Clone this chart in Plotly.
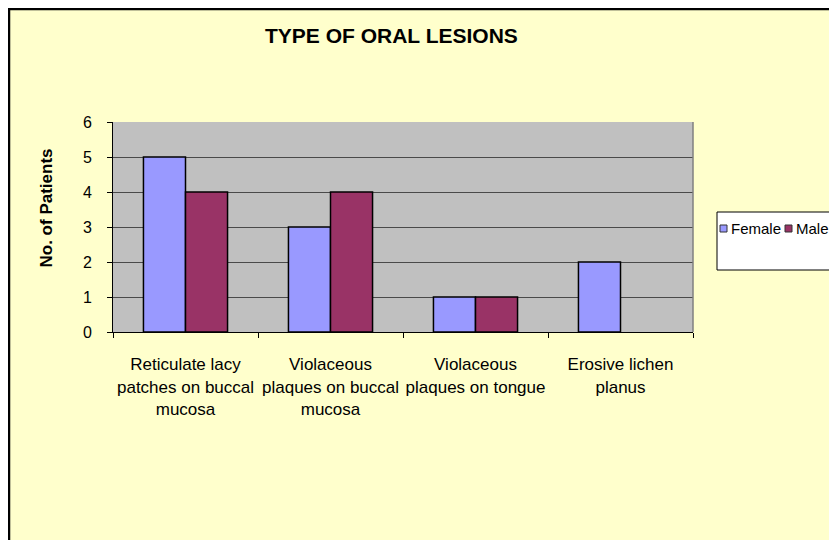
import plotly.graph_objects as go

categories = [
    "Reticulate lacy<br>patches on buccal<br>mucosa",
    "Violaceous<br>plaques on buccal<br>mucosa",
    "Violaceous<br>plaques on tongue",
    "Erosive lichen<br>planus",
]
female = [5, 3, 1, 2]
male = [4, 4, 1, 0]
y_ticks = [0, 1, 2, 3, 4, 5, 6]
series_names = ["Female", "Male"]
series_colors = ["#9999FF", "#993366"]

# page offset (browser body margin)
OFF = 8
W, H = 837 - OFF, 540 - OFF
# plot area in page pixels
PL, PR, PT, PB = 113, 693, 122, 332
L, R, T, B = PL - OFF, PR - OFF, PT - OFF, PB - OFF
pw, ph = R - L, B - T


def px(x):
    """page x pixel -> paper coordinate"""
    return (x - OFF - L) / pw


def py(y):
    """page y pixel -> paper coordinate"""
    return (B - (y - OFF)) / ph


FONT = "Liberation Sans, Arial, sans-serif"

fig = go.Figure()
for name, vals, col in zip(series_names, [female, male], series_colors):
    fig.add_trace(go.Bar(
        name=name, x=categories, y=vals,
        marker=dict(color=col,
                    line=dict(color="black", width=[1.5 if v else 0 for v in vals])),
    ))

fig.update_layout(
    width=W, height=H,
    margin=dict(l=L, r=W - R, t=T, b=H - B, pad=0, autoexpand=False),
    paper_bgcolor="#FFFFCC",
    plot_bgcolor="#C0C0C0",
    barmode="group",
    bargap=0.42,
    bargroupgap=0,
    font=dict(family=FONT, size=16, color="black"),
    showlegend=False,
    xaxis=dict(
        showline=True, linecolor="black", linewidth=1,
        ticks="outside", ticklen=5, tickcolor="black", tickson="boundaries",
        tickangle=0, ticklabelstandoff=17,
        showgrid=False, tickfont=dict(family=FONT, size=17),
        fixedrange=True,
    ),
    yaxis=dict(
        range=[0, 6], tickvals=y_ticks, ticktext=[str(v) for v in y_ticks],
        showline=True, linecolor="black", linewidth=1,
        ticks="outside", ticklen=5, tickcolor="black",
        showgrid=True, gridcolor="#4a4a4a", gridwidth=1,
        zeroline=False, tickfont=dict(family=FONT, size=16),
        ticklabelstandoff=12,
        fixedrange=True,
    ),
)

shapes = [
    # chart border (top & left visible)
    dict(type="rect", xref="paper", yref="paper",
         x0=px(OFF + 1), x1=px(OFF + W + 20), y0=py(OFF + H + 20), y1=py(OFF + 1),
         fillcolor="rgba(0,0,0,0)", line=dict(color="black", width=2.5), layer="above"),
    # plot area right border
    dict(type="line", xref="paper", yref="paper", x0=1, x1=1, y0=0, y1=1,
         line=dict(color="#808080", width=1.5), layer="above"),
    # legend box
    dict(type="rect", xref="paper", yref="paper",
         x0=px(717), x1=px(OFF + W + 20), y0=py(270), y1=py(212),
         fillcolor="white", line=dict(color="black", width=1), layer="above"),
]
# legend keys
leg_x = [720, 785]
leg_text_x = [729, 794]
for kx, tx, name, col in zip(leg_x, leg_text_x, series_names, series_colors):
    shapes.append(dict(type="rect", xref="paper", yref="paper",
                       x0=px(kx), x1=px(kx + 7), y0=py(232), y1=py(225),
                       fillcolor=col, line=dict(color="#333333", width=1), layer="above"))
    fig.add_annotation(text=name, xref="paper", yref="paper", x=px(tx), y=py(228.5),
                       xanchor="left", yanchor="middle", showarrow=False,
                       font=dict(family=FONT, size=15, color="black"))
fig.update_layout(shapes=shapes)

fig.add_annotation(text="<b>TYPE OF ORAL LESIONS</b>", xref="paper", yref="paper",
                   x=px(391), y=py(36), xanchor="center", yanchor="middle",
                   showarrow=False, font=dict(family=FONT, size=21, color="black"))
fig.add_annotation(text="<b>No. of Patients</b>", xref="paper", yref="paper",
                   x=px(45.5), y=py(208), xanchor="center", yanchor="middle", textangle=-90,
                   showarrow=False, font=dict(family=FONT, size=17, color="black"))

fig.write_html("out.html", config={"displayModeBar": False})
